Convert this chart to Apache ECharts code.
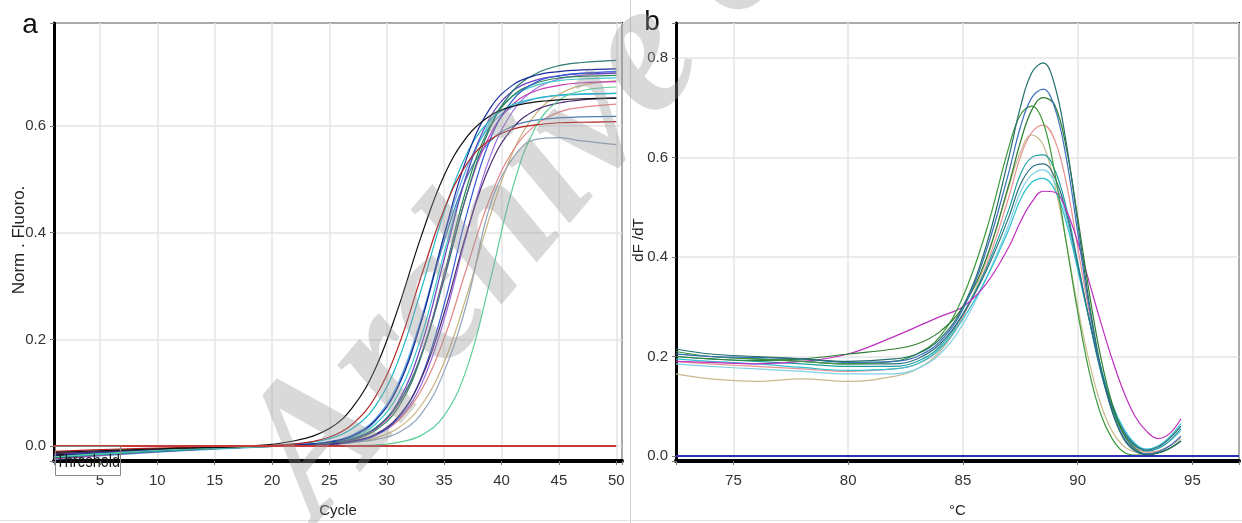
<!DOCTYPE html>
<html><head><meta charset="utf-8">
<script src="https://cdn.jsdelivr.net/npm/echarts@6/dist/echarts.min.js"></script>
<style>html,body{margin:0;padding:0;background:#fff}#c{width:1242px;height:523px}</style>
</head><body><div id="c"></div>
<script>
// ---------- Panel a : amplification curves (Norm. Fluoro. vs Cycle) ----------
const cyclesA = [1, 6, 12, 18, 22, 25, 27, 29, 31, 33, 35, 37, 39, 41, 43, 45, 47, 50];
const ampBlack     = [-0.012,-0.008,-0.004,0.000,0.010,0.033,0.072,0.145,0.259,0.393,0.507,0.580,0.619,0.637,0.645,0.649,0.651,0.652];
const ampDarkRed   = [-0.010,-0.006,-0.003,0.000,0.004,0.017,0.041,0.092,0.186,0.318,0.444,0.530,0.574,0.594,0.602,0.606,0.607,0.608];
const ampCyan      = [-0.020,-0.014,-0.007,-0.002,0.004,0.014,0.033,0.075,0.160,0.293,0.439,0.549,0.611,0.640,0.652,0.658,0.660,0.661];
const ampNavy      = [-0.018,-0.012,-0.006,-0.001,0.002,0.008,0.019,0.048,0.112,0.233,0.396,0.542,0.633,0.677,0.695,0.702,0.705,0.707];
const ampPurple    = [-0.015,-0.010,-0.005,-0.001,0.001,0.005,0.013,0.033,0.083,0.188,0.350,0.511,0.616,0.666,0.686,0.694,0.698,0.699];
const ampDarkTeal  = [-0.022,-0.015,-0.008,-0.002,0.001,0.006,0.014,0.034,0.080,0.170,0.313,0.474,0.596,0.666,0.698,0.713,0.719,0.723];
const ampMagenta   = [-0.024,-0.016,-0.008,-0.002,0.001,0.005,0.013,0.032,0.078,0.171,0.318,0.473,0.583,0.641,0.666,0.676,0.681,0.683];
const ampSteel     = [-0.016,-0.011,-0.005,-0.001,0.002,0.007,0.018,0.047,0.112,0.234,0.384,0.505,0.571,0.600,0.611,0.615,0.617,0.618];
const ampDarkPurp  = [-0.014,-0.010,-0.005,-0.001,0.001,0.003,0.009,0.022,0.055,0.126,0.249,0.403,0.526,0.597,0.630,0.643,0.649,0.652];
const ampCyan2     = [-0.021,-0.014,-0.007,-0.002,0.002,0.006,0.016,0.041,0.097,0.205,0.362,0.511,0.608,0.656,0.676,0.685,0.688,0.690];
const ampBlue2     = [-0.019,-0.013,-0.006,-0.001,0.001,0.003,0.008,0.020,0.053,0.128,0.265,0.437,0.574,0.649,0.682,0.694,0.699,0.702];
const ampPink      = [-0.013,-0.009,-0.004,-0.001,0.001,0.004,0.009,0.021,0.048,0.104,0.202,0.336,0.465,0.554,0.602,0.626,0.635,0.641];
const ampTan       = [-0.012,-0.008,-0.004,-0.001,0.000,0.003,0.006,0.015,0.034,0.076,0.157,0.284,0.431,0.551,0.623,0.659,0.676,0.685];
const ampGrayBlue  = [-0.017,-0.011,-0.005,-0.001,0.001,0.003,0.007,0.012,0.025,0.060,0.140,0.270,0.450,0.540,0.575,0.578,0.572,0.565];
const ampSeafoam   = [-0.020,-0.013,-0.006,-0.002,0.000,0.000,0.001,0.002,0.007,0.020,0.057,0.147,0.309,0.486,0.599,0.648,0.666,0.673];
const ampDarkGreen = [-0.023,-0.015,-0.007,-0.002,0.001,0.004,0.011,0.029,0.072,0.168,0.322,0.487,0.600,0.657,0.680,0.690,0.693,0.695];
const ampViolet    = [-0.018,-0.012,-0.006,-0.001,0.001,0.003,0.008,0.020,0.050,0.115,0.237,0.399,0.542,0.628,0.670,0.688,0.695,0.699];
const ampLightBlue = [-0.025,-0.017,-0.009,-0.003,0.002,0.008,0.021,0.051,0.118,0.239,0.393,0.523,0.600,0.636,0.651,0.657,0.659,0.661];
const thresholdValue = 0.0;
const thresholdCycles = [1, 50];

// ---------- Panel b : melt curves (dF/dT vs temperature) ----------
const tempsB = [72.5, 74, 76, 78, 80, 82, 83, 84, 85, 86, 87, 87.5, 88, 88.5, 89, 89.5, 90, 90.5, 91, 91.5, 92, 92.5, 93, 93.5, 94, 94.5];
const meltDarkTeal  = [.215,.205,.200,.195,.190,.195,.205,.235,.300,.420,.600,.700,.770,.790,.745,.630,.470,.310,.180,.090,.035,.010,.003,.006,.015,.030];
const meltBlue      = [.205,.200,.198,.195,.188,.190,.200,.230,.295,.410,.570,.660,.720,.737,.700,.600,.450,.300,.175,.090,.038,.012,.004,.008,.020,.040];
const meltDarkGreen = [.200,.195,.192,.195,.205,.215,.225,.250,.300,.395,.545,.630,.695,.720,.705,.620,.480,.330,.200,.105,.045,.015,.004,.006,.015,.030];
const meltGreen     = [.210,.200,.195,.190,.185,.190,.205,.240,.320,.450,.620,.685,.703,.670,.570,.430,.290,.170,.085,.035,.008,.002,.002,.006,.015,.030];
const meltSalmon    = [.190,.185,.180,.175,.170,.175,.185,.215,.280,.380,.520,.600,.650,.665,.635,.550,.420,.290,.175,.095,.045,.018,.008,.010,.020,.040];
const meltTan       = [.165,.155,.150,.155,.150,.160,.175,.210,.280,.390,.540,.610,.645,.625,.545,.430,.300,.190,.105,.050,.020,.008,.005,.010,.020,.035];
const meltTeal      = [.200,.195,.190,.185,.180,.180,.190,.220,.285,.375,.495,.565,.600,.605,.575,.500,.390,.275,.170,.095,.045,.020,.010,.015,.030,.055];
const meltSlate     = [.205,.200,.195,.190,.185,.185,.195,.225,.285,.370,.480,.545,.580,.587,.560,.490,.385,.275,.175,.100,.050,.022,.012,.018,.035,.060];
const meltCyan      = [.195,.190,.185,.178,.172,.175,.185,.215,.275,.355,.455,.515,.550,.558,.535,.470,.375,.275,.180,.105,.055,.025,.014,.020,.038,.065];
const meltLightCyan = [.185,.180,.175,.170,.165,.165,.175,.205,.265,.355,.465,.530,.565,.575,.550,.480,.380,.275,.180,.105,.055,.025,.012,.015,.030,.050];
const meltMagenta   = [.190,.188,.185,.190,.205,.240,.260,.280,.300,.345,.420,.470,.510,.532,.530,.495,.430,.350,.270,.195,.130,.080,.050,.035,.045,.075];
const baselineB = 0.0;
const baselineTemps = [72.5, 97.03];

const seriesA = [
  ['#9a6be0', ampViolet], ['#5ea8e6', ampLightBlue], ['#c9b47e', ampTan], ['#90a4b8', ampGrayBlue],
  ['#e38585', ampPink], ['#3ccccc', ampCyan2], ['#4a7db5', ampSteel], ['#2e8b57', ampDarkGreen],
  ['#c23bb8', ampMagenta], ['#6b3fc4', ampPurple], ['#3358d6', ampBlue2], ['#4b2a70', ampDarkPurp],
  ['#2a7a72', ampDarkTeal], ['#1fb8c8', ampCyan], ['#1a2c9c', ampNavy], ['#5ccf9a', ampSeafoam],
  ['#b22222', ampDarkRed], ['#111111', ampBlack]
];
const seriesB = [
  ['#c9b98c', meltTan], ['#e89090', meltSalmon], ['#7fd0e8', meltLightCyan], ['#30c0d0', meltCyan],
  ['#20a0a0', meltTeal], ['#2e6f7f', meltSlate], ['#c030c0', meltMagenta], ['#3a9a3a', meltGreen],
  ['#2f7d32', meltDarkGreen], ['#3a6fc0', meltBlue], ['#24706a', meltDarkTeal]
];

const SANS = '"Liberation Sans",Arial,sans-serif';

function niceLabel(step, digits) {
  return function (v) {
    const r = v / step;
    return Math.abs(r - Math.round(r)) < 1e-6 ? v.toFixed(digits) : '';
  };
}
function xAxisCfg(gi, min, max, split, name) {
  return {
    type: 'value', gridIndex: gi, min: min, max: max, splitNumber: split,
    name: name, nameLocation: 'middle', nameGap: 42,
    nameTextStyle: { fontFamily: SANS, fontSize: 15, color: '#222' },
    axisLine: { show: true, onZero: false, lineStyle: { color: '#000', width: 4 } },
    axisTick: { show: true, length: 4, lineStyle: { color: '#777' } },
    axisLabel: { margin: 12, fontFamily: SANS, fontSize: 15, color: '#333', formatter: niceLabel(5, 0) },
    splitLine: { show: true, lineStyle: { color: '#e4e4e4', width: 1.5 } }
  };
}
function yAxisCfg(gi, min, max, split) {
  return {
    type: 'value', gridIndex: gi, min: min, max: max, splitNumber: split,
    axisLine: { show: true, onZero: false, lineStyle: { color: '#000', width: 3 } },
    axisTick: { show: true, length: 4, lineStyle: { color: '#777' } },
    axisLabel: { margin: 8, fontFamily: SANS, fontSize: 15, color: '#333', formatter: niceLabel(0.2, 1) },
    splitLine: { show: true, lineStyle: { color: '#e4e4e4', width: 1.5 } }
  };
}

const series = [];
seriesA.forEach(([col, arr]) => series.push({
  type: 'line', xAxisIndex: 0, yAxisIndex: 0, showSymbol: false, smooth: 0.4,
  lineStyle: { color: col, width: 1.2 }, data: cyclesA.map((c, i) => [c, arr[i]]), silent: true
}));
series.push({
  type: 'line', xAxisIndex: 0, yAxisIndex: 0, showSymbol: false, z: 5,
  lineStyle: { color: '#c83a3a', width: 2 }, data: thresholdCycles.map(c => [c, thresholdValue])
});
seriesB.forEach(([col, arr]) => series.push({
  type: 'line', xAxisIndex: 1, yAxisIndex: 1, showSymbol: false, smooth: 0.4,
  lineStyle: { color: col, width: 1.2 }, data: tempsB.map((t, i) => [t, arr[i]]), silent: true
}));
series.push({
  type: 'line', xAxisIndex: 1, yAxisIndex: 1, showSymbol: false, z: 5,
  lineStyle: { color: '#2f2fb0', width: 2 }, data: baselineTemps.map(t => [t, baselineB])
});

const chart = echarts.init(document.getElementById('c'), null, { renderer: 'canvas' });
chart.setOption({
  animation: false,
  backgroundColor: '#fff',
  grid: [
    { left: 54, top: 23, width: 568, height: 438, show: true, borderColor: '#000', borderWidth: 2 },
    { left: 676, top: 23, width: 568, height: 438, show: true, borderColor: '#000', borderWidth: 2 }
  ],
  xAxis: [xAxisCfg(0, 1, 50.5, 10, 'Cycle'), xAxisCfg(1, 72.5, 97.03, 5, '°C')],
  yAxis: [yAxisCfg(0, -0.028, 0.793, 4), yAxisCfg(1, -0.01, 0.87, 5)],
  series: series,
  graphic: [
    { type: 'line', shape: { x1: 630.5, y1: 0, x2: 630.5, y2: 523 }, style: { stroke: '#cfcfcf', lineWidth: 1 }, z: 1 },
    { type: 'line', shape: { x1: 0, y1: 520.5, x2: 1242, y2: 520.5 }, style: { stroke: '#e2e2e2', lineWidth: 1 }, z: 1 },
    { type: 'text', x: 30, y: 25, style: { text: 'a', font: '28px ' + SANS, fill: '#111', align: 'center', verticalAlign: 'middle' }, z: 10 },
    { type: 'text', x: 652, y: 22, style: { text: 'b', font: '28px ' + SANS, fill: '#111', align: 'center', verticalAlign: 'middle' }, z: 10 },
    { type: 'text', x: 19, y: 240, rotation: Math.PI / 2, style: { text: 'Norm . Fluoro.', font: '17px ' + SANS, fill: '#222', align: 'center', verticalAlign: 'middle' }, z: 10 },
    { type: 'text', x: 639, y: 240, rotation: Math.PI / 2, style: { text: 'dF /dT', font: '15px ' + SANS, fill: '#222', align: 'center', verticalAlign: 'middle' }, z: 10 },
    { type: 'rect', shape: { x: 55.5, y: 446.5, width: 65, height: 29 }, style: { fill: 'rgba(0,0,0,0)', stroke: '#888', lineWidth: 1 }, z: 10 },
    { type: 'text', x: 88, y: 462, scaleX: 0.8, style: { text: 'Threshold', font: '18px ' + SANS, fill: '#1a1a1a', align: 'center', verticalAlign: 'middle' }, z: 11 },
    { type: 'text', x: 352, y: 552, rotation: 0.87, style: { text: 'Archive of SID', font: 'italic bold 188px "Liberation Serif",serif', fill: 'rgba(150,150,150,0.36)', align: 'left', verticalAlign: 'bottom' }, z: 20 }
  ]
});
</script></body></html>
